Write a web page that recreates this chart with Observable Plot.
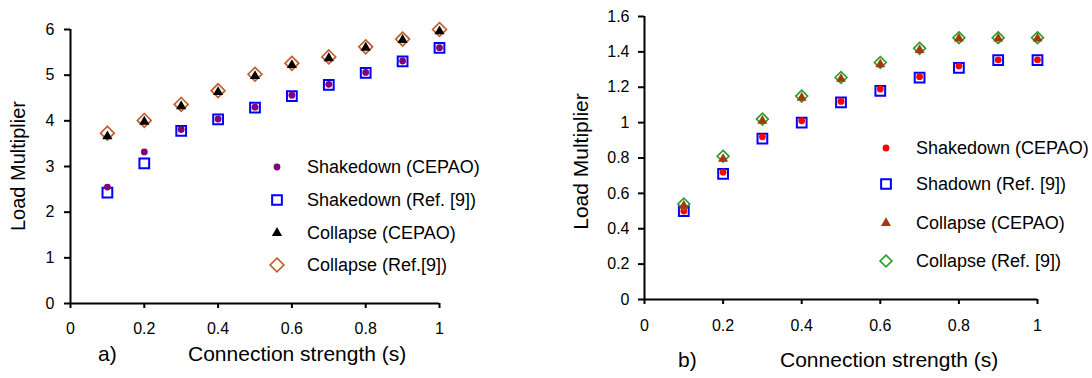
<!DOCTYPE html>
<html><head><meta charset="utf-8">
<script src="https://cdn.jsdelivr.net/npm/d3@7"></script>
<script src="https://cdn.jsdelivr.net/npm/@observablehq/plot@0.6"></script>
<style>
body{margin:0;background:#fff;font-family:"Liberation Sans",Arial,sans-serif;}
#wrap{position:relative;width:1092px;height:378px;overflow:hidden;background:#fff}
.panel{position:absolute;top:0}
.lbl{position:absolute;white-space:nowrap;color:#000}
</style></head><body><div id="wrap"></div>
<script>
// ---------- data ----------
const xs = [0.1, 0.2, 0.3, 0.4, 0.5, 0.6, 0.7, 0.8, 0.9, 1.0];

// panel a)
const aShakeCEPAO = [2.55, 3.32, 3.81, 4.04, 4.30, 4.56, 4.80, 5.06, 5.31, 5.60];
const aShakeRef   = [2.43, 3.07, 3.78, 4.03, 4.29, 4.54, 4.79, 5.05, 5.30, 5.60];
const aCollCEPAO  = [3.66, 3.98, 4.32, 4.63, 4.98, 5.22, 5.37, 5.60, 5.77, 5.96];
const aCollRef    = [3.73, 4.01, 4.36, 4.66, 5.02, 5.26, 5.40, 5.62, 5.79, 6.00];

// panel b)
const bShakeCEPAO = [0.50, 0.72, 0.92, 1.01, 1.12, 1.19, 1.26, 1.32, 1.355, 1.355];
const bShakeRef   = [0.50, 0.71, 0.91, 1.00, 1.115, 1.18, 1.255, 1.31, 1.354, 1.354];
const bCollCEPAO  = [0.53, 0.795, 1.01, 1.14, 1.247, 1.33, 1.41, 1.475, 1.475, 1.475];
const bCollRef    = [0.54, 0.81, 1.02, 1.15, 1.255, 1.34, 1.42, 1.48, 1.48, 1.48];

const xTicks  = [0, 0.2, 0.4, 0.6, 0.8, 1];
const yTicksA = [0, 1, 2, 3, 4, 5, 6];
const yTicksB = [0, 0.2, 0.4, 0.6, 0.8, 1, 1.2, 1.4, 1.6];

const legendA = ["Shakedown (CEPAO)", "Shakedown (Ref. [9])", "Collapse (CEPAO)", "Collapse (Ref.[9])"];
const legendB = ["Shakedown (CEPAO)", "Shadown (Ref. [9])", "Collapse (CEPAO)", "Collapse (Ref. [9])"];

// ---------- styles ----------
const FONT = "'Liberation Sans', Arial, sans-serif";
const fmt = d3.format("~g");
const symA = [
  {symbol: "circle",   r: 3.4, fill: "#800080", stroke: "none"},
  {symbol: "square",   r: 5.5, fill: "none", stroke: "#0000ff", strokeWidth: 2},
  {symbol: "triangle", r: 3.8, fill: "#000000", stroke: "none"},
  {symbol: "diamond2", r: 6.2, fill: "none", stroke: "#c0602c", strokeWidth: 1.7}
];
const symB = [
  {symbol: "circle",   r: 3.4, fill: "#ff0000", stroke: "none"},
  {symbol: "square",   r: 5.5, fill: "none", stroke: "#0000ff", strokeWidth: 2},
  {symbol: "triangle", r: 3.7, fill: "#a33a0a", stroke: "none"},
  {symbol: "diamond2", r: 5.3, fill: "none", stroke: "#2e9e2e", strokeWidth: 1.7}
];

function panel(opts) {
  const {series, sym, yTicks, yDomain, m, ytp, xtp} = opts;
  // draw order: squares, dots, diamonds, triangles
  const order = [1, 0, 3, 2];
  return Plot.plot({
    width: 546, height: 378,
    marginLeft: m[0], marginRight: m[1], marginTop: m[2], marginBottom: m[3],
    x: {domain: [0, 1]},
    y: {domain: yDomain},
    style: {fontFamily: FONT, fontSize: "16px", color: "#000", background: "transparent"},
    marks: [
      Plot.axisY({ticks: yTicks, tickFormat: fmt, tickSize: 6, tickPadding: ytp, strokeWidth: 2, label: null}),
      Plot.axisX({ticks: xTicks, tickFormat: fmt, tickSize: 5, tickPadding: xtp, strokeWidth: 2, label: null}),
      Plot.ruleX([0], {stroke: "#000", strokeWidth: 2}),
      Plot.ruleY([0], {stroke: "#000", strokeWidth: 2}),
      ...order.map(i => Plot.dot(series[i], {x: xs, y: series[i], ...sym[i]}))
    ]
  });
}

const wrap = document.getElementById("wrap");

const pa = panel({series: [aShakeCEPAO, aShakeRef, aCollCEPAO, aCollRef], sym: symA,
  yTicks: yTicksA, yDomain: [0, 6], m: [70, 107, 29, 75], ytp: 10, xtp: 14});
pa.classList.add("panel"); pa.style.left = "0px";
wrap.appendChild(pa);

const pb = panel({series: [bShakeCEPAO, bShakeRef, bCollCEPAO, bCollRef], sym: symB,
  yTicks: yTicksB, yDomain: [0, 1.6], m: [98, 55, 16, 79], ytp: 9, xtp: 15});
pb.classList.add("panel"); pb.style.left = "546px";
wrap.appendChild(pb);

// ---------- labels ----------
function label(text, left, baseline, size, extra = {}) {
  const d = document.createElement("div");
  d.className = "lbl";
  d.textContent = text;
  d.style.fontSize = size + "px";
  d.style.lineHeight = size + "px";
  d.style.left = left + "px";
  d.style.top = (baseline - 0.85 * size) + "px";
  Object.assign(d.style, extra);
  wrap.appendChild(d);
  return d;
}
function ylabel(text, cx, cy, size) {
  const d = document.createElement("div");
  d.className = "lbl";
  d.textContent = text;
  d.style.fontSize = size + "px";
  d.style.lineHeight = size + "px";
  d.style.width = "200px";
  d.style.textAlign = "center";
  d.style.left = (cx - 100) + "px";
  d.style.top = (cy - size / 2) + "px";
  d.style.transform = "rotate(-90deg)";
  wrap.appendChild(d);
}

label("a)", 98, 361, 21);
label("Connection strength (s)", 188, 361, 21);
label("b)", 678, 367, 21);
label("Connection strength (s)", 780, 367, 21);
ylabel("Load Multiplier", 18, 166, 20);
ylabel("Load Multiplier", 580, 161, 21);

// ---------- legends ----------
const symMap = {circle: d3.symbolCircle, square: d3.symbolSquare, triangle: d3.symbolTriangle, diamond2: d3.symbolDiamond2};
function legend(items, sym, sx, tx, rows) {
  items.forEach((t, i) => {
    const s = sym[i];
    const svg = d3.create("svg").attr("width", 24).attr("height", 24)
      .style("position", "absolute").style("left", (sx - 12) + "px").style("top", (rows[i] - 12) + "px");
    svg.append("path")
      .attr("transform", "translate(12,12)")
      .attr("d", d3.symbol(symMap[s.symbol], Math.PI * s.r * s.r)())
      .attr("fill", s.fill).attr("stroke", s.stroke).attr("stroke-width", s.strokeWidth || 0);
    wrap.appendChild(svg.node());
    label(t, tx, rows[i] + 6.5, 18);
  });
}
legend(legendA, symA, 277, 307, [166.5, 200, 233, 264.5]);
legend(legendB, symB, 886, 916, [148, 184, 223, 260.5]);
</script>
</body></html>
